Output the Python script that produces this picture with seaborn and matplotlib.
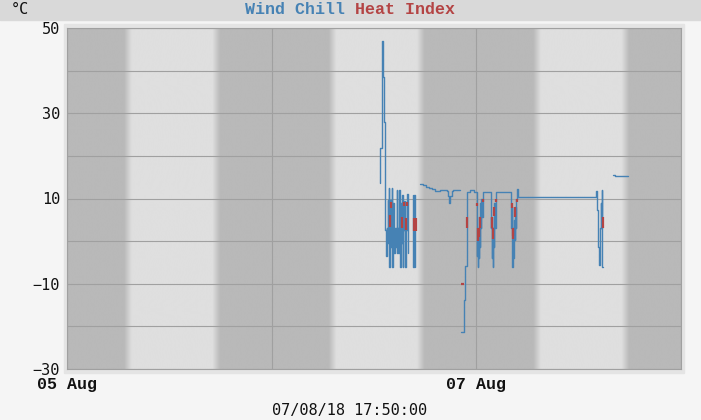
import numpy as np
import pandas as pd
import matplotlib
matplotlib.use("Agg")
import matplotlib.pyplot as plt
import seaborn as sns
from matplotlib.colors import LinearSegmentedColormap
from matplotlib.patches import Rectangle

sns.set_theme(style="white")
plt.rcParams["font.family"] = ["Liberation Mono", "DejaVu Sans Mono", "DejaVu Sans"]

# ---------------- data (hours since 05 Aug 00:00, degrees C) ----------------
wc_hours = [
    36.70, 36.74, 36.90, 36.97, 37.03, 37.14, 37.29, 37.32, 37.41, 37.48,
    37.52, 37.59, 37.68, 37.74, 37.79, 37.88, 37.99, 38.08, 38.15, 38.23,
    38.38, 38.46, 38.58, 38.66, 38.73, 38.81, 38.89, 38.97, 39.05, 39.13,
    39.20, 39.28, 39.36, 39.43, 39.52, 39.60, 39.67, 39.75, 39.83, 39.90,
    39.99,
    40.53, 40.60, 40.72, 40.81, 40.86,
    41.39, 41.75, 42.10, 42.45, 42.80, 43.15, 43.74, 44.56, 44.73, 44.85,
    44.97, 45.09, 45.26, 46.03,
    46.20, 46.59, 46.67, 46.94, 47.26, 47.72, 48.04, 48.11, 48.17, 48.23,
    48.29, 48.35, 48.41, 48.46, 48.52, 48.58, 48.64, 48.75, 49.68, 49.75,
    49.81, 49.87, 49.93, 49.99, 50.05, 50.11, 50.17, 50.27, 50.33, 52.03,
    52.09, 52.15, 52.22, 52.28, 52.34, 52.40, 52.50, 52.56, 52.62, 52.68,
    52.74, 52.80, 52.92, 62.03, 62.18, 62.30, 62.38, 62.47, 62.56, 62.61,
    62.67, 62.73, 62.79, 62.85,
    64.06, 64.26, 65.75,
]
wc_celsius = [
    13.6, 21.8, 38.6, 46.9, 38.6, 28.0, 15.3, 2.6, -3.6, 3.0,
    -0.5, 9.6, 2.6, 12.4, -6.0, 9.6, -1.3, 12.4, -6.0, 8.9,
    -2.9, 3.0, -1.3, 12.0, -2.9, 3.0, -2.9, 12.0, -6.0, 8.9,
    -0.5, 10.8, -6.0, 9.3, 2.6, 9.3, -6.0, 3.0, 2.6, 11.0,
    -2.9,
    10.8, -6.0, 10.8, -6.0, -6.0,
    13.4, 13.1, 12.8, 12.5, 12.2, 11.8, 12.0, 11.8, 10.5, 8.9,
    10.5, 11.8, 12.0, 12.0,
    -21.25, -13.8, -5.8, 11.6, 12.0, 11.6, -3.6, 0.3, -6.0, 3.0,
    -4.0, 5.7, -1.3, 8.9, 3.0, 10.0, 5.7, 11.6, 3.0, 5.7,
    -4.0, 3.0, -6.0, 3.0, -1.3, 8.9, 3.0, 8.9, 11.6, 8.9,
    3.0, 8.0, -6.0, 3.0, -4.0, 5.0, 0.3, 8.0, 3.0, 10.0,
    11.6, 12.2, 10.3, 11.8, 7.3, -1.3, -5.6, -2.6, 3.0, 8.9,
    3.0, 12.0, -6.0, -6.0,
    15.5, 15.2, 15.2,
]
wc_segment = [1] * 41 + [2] * 5 + [3] * 14 + [4] * 54 + [5] * 3

hi_segment = [1, 1, 2, 2, 3, 3, 4, 4, 5, 5, 6, 6, 7, 7, 8, 8, 9, 9, 10, 10,
              11, 11, 12, 12, 13, 13, 14, 14, 15, 15, 16, 16, 17, 17, 18, 18,
              19, 19, 20, 20, 21, 21, 22, 22, 23, 23, 24, 24, 25, 25]
hi_hours = [37.88, 37.88, 38.05, 38.05, 39.34, 39.34, 39.55, 39.55, 39.75, 39.75,
            39.90, 39.90, 40.70, 40.70, 40.91, 40.91, 46.94, 46.94, 48.04, 48.04,
            48.23, 48.23, 48.35, 48.35, 48.46, 48.46, 48.75, 48.75, 49.80, 49.80,
            49.91, 49.91, 50.11, 50.11, 50.31, 50.31, 52.15, 52.15, 52.27, 52.27,
            52.34, 52.34, 52.54, 52.54, 52.74, 52.74, 62.82, 62.82, 46.20, 46.61]
hi_celsius = [6.1, 3.4, 9.2, 7.8, 5.7, 3.0, 9.2, 8.3, 5.5, 2.6,
              9.2, 8.3, 5.5, 2.4, 5.5, 2.4, 5.7, 3.0, 8.9, 8.2,
              3.0, 0.0, 3.0, 1.0, 5.7, 3.0, 10.0, 9.2, 5.7, 3.0,
              3.0, 0.5, 8.0, 6.0, 10.0, 9.2, 8.9, 7.8, 3.0, 0.5,
              3.0, 1.3, 8.0, 5.7, 10.0, 9.2, 5.7, 3.0, -10.1, -10.1]

x_tick_hours = [0, 24, 48, 72]
x_tick_labels = ["05 Aug", "", "07 Aug", ""]
y_ticks = [-30, -20, -10, 0, 10, 20, 30, 40, 50]
y_tick_labels = ["\u221230", "", "\u221210", "", "10", "", "30", "", "50"]
sunrise_hours = [7.15, 31.15, 55.15]
sunset_hours = [17.5, 41.5, 65.5]
twilight_hours = 0.9
timestamp = "07/08/18 17:50:00"
unit_label = "\u00b0C"

WC_COLOR = "#4682b4"
HI_COLOR = "#b44444"

# ---------------- figure ----------------
W, H = 701, 420
fig = plt.figure(figsize=(W / 100, H / 100), dpi=100, facecolor="#f5f5f5")
fig.patches.append(Rectangle((0, 1 - 20 / H), 1, 20 / H, transform=fig.transFigure,
                             color="#d9d9d9", zorder=-10))
fig.patches.append(Rectangle((64 / W, 1 - 373 / H), (684 - 64) / W, (373 - 24) / H,
                             transform=fig.transFigure, color="#e4e4e4", zorder=-10))

ax = fig.add_axes([67 / W, 1 - 369 / H, 614 / W, 341 / H])
ax.set_zorder(1)

# day / night background
t = np.linspace(0, 72, 3000)
day = np.zeros_like(t)
for sr, ss in zip(sunrise_hours, sunset_hours):
    up = np.clip((t - (sr - twilight_hours / 2)) / twilight_hours, 0, 1)
    down = np.clip(((ss + twilight_hours / 2) - t) / twilight_hours, 0, 1)
    day = np.maximum(day, np.minimum(up, down))
cmap = LinearSegmentedColormap.from_list("dn", ["#b9b9b9", "#dfdfdf"])
ax.imshow(day[None, :], extent=[0, 72, -30, 50], aspect="auto", cmap=cmap,
          vmin=0, vmax=1, interpolation="bilinear", zorder=0)

wc = pd.DataFrame({"seg": wc_segment, "hours": wc_hours, "celsius": wc_celsius})
hi = pd.DataFrame({"seg": hi_segment, "hours": hi_hours, "celsius": hi_celsius})

sns.lineplot(data=wc, x="hours", y="celsius", units="seg", estimator=None, sort=False,
             color=WC_COLOR, lw=1.0, drawstyle="steps-post", legend=False, ax=ax, zorder=3)
sns.lineplot(data=hi, x="hours", y="celsius", units="seg", estimator=None, sort=False,
             color=HI_COLOR, lw=1.6, legend=False, ax=ax, zorder=4, solid_capstyle="butt")

ax.set_xlim(0, 72)
ax.set_ylim(-30, 50)
ax.set_xlabel("")
ax.set_ylabel("")
ax.set_xticks(x_tick_hours)
ax.set_xticklabels(x_tick_labels, fontweight="bold", fontsize=12, color="#111111",
                   family=["Liberation Mono", "DejaVu Sans Mono"])
ax.set_yticks(y_ticks)
ax.set_yticklabels(y_tick_labels, fontsize=11, color="#111111",
                   family=["DejaVu Sans Mono", "DejaVu Sans"])
ax.tick_params(axis="both", length=0)
ax.tick_params(axis="x", pad=6)
ax.tick_params(axis="y", pad=5)
ax.set_axisbelow(True)
ax.grid(True, color="#a0a0a0", lw=0.8)
for s in ax.spines.values():
    s.set_color("#a0a0a0")
    s.set_linewidth(0.8)

# header texts
fig.text(345 / W, 1 - 9 / H, "Wind Chill", color=WC_COLOR, ha="right", va="center",
         fontsize=12, fontweight="bold", family=["Liberation Mono", "DejaVu Sans Mono"])
fig.text(355 / W, 1 - 9 / H, "Heat Index", color=HI_COLOR, ha="left", va="center",
         fontsize=12, fontweight="bold", family=["Liberation Mono", "DejaVu Sans Mono"])
fig.text(11 / W, 1 - 9 / H, unit_label, color="#111111", ha="left", va="center",
         fontsize=11, family=["DejaVu Sans Mono", "DejaVu Sans"])
fig.text(350 / W, 1 - 410 / H, timestamp, color="#111111", ha="center", va="center",
         fontsize=11, family=["DejaVu Sans Mono", "DejaVu Sans"])

fig.savefig("out.png", dpi=100, facecolor=fig.get_facecolor())
